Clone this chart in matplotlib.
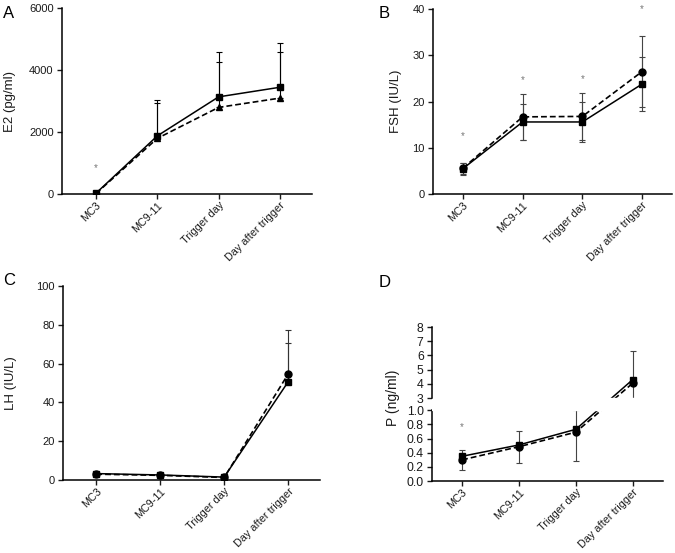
import numpy as np
import matplotlib
matplotlib.use('Agg')
import matplotlib.pyplot as plt

plt.rcParams['font.family'] = ['Liberation Sans', 'DejaVu Sans']

#T# data
days = ['MC3', 'MC9-11', 'Trigger day', 'Day after trigger']

e2_solid = [30, 1880, 3140, 3450]
e2_solid_err = [0, 1150, 1450, 1440]
e2_dash = [20, 1800, 2800, 3100]
e2_dash_err = [0, 1145, 1450, 1490]
e2_star = [830, None, None, None]

fsh_solid = [5.5, 15.6, 15.6, 23.8]
fsh_solid_err = [1.3, 3.8, 4.3, 5.8]
fsh_dash = [5.6, 16.7, 16.8, 26.5]
fsh_dash_err = [1.2, 5.0, 5.1, 7.6]
fsh_star = [12.5, 24.6, 24.9, 40.0]

lh_solid = [3.3, 2.6, 1.5, 50.6]
lh_solid_err = [0, 0, 0, 19.9]
lh_dash = [3.0, 2.4, 1.3, 54.6]
lh_dash_err = [0, 0, 0, 22.7]

p_solid = [0.35, 0.51, 0.73, 4.3]
p_solid_err = [0.02, 0.03, 0.03, 2.03]
p_dash = [0.30, 0.485, 0.69, 4.05]
p_dash_err = [0.14, 0.225, 0.40, 0.1]
p_star = [0.76, None, None, None]

ink = '#1a1a1a'
x = np.arange(len(days))

fig1 = plt.figure(figsize=(6.75, 5.53), dpi=100)

#T# axes positions in figure fractions
axA = fig1.add_axes([0.0919, 0.649, 0.370, 0.336])
axB = fig1.add_axes([0.6415, 0.649, 0.354, 0.3345])
axC = fig1.add_axes([0.0933, 0.132, 0.381, 0.351])
axD = fig1.add_axes([0.640, 0.130, 0.342, 0.2785])


def style(ax, xlim, ysize=8):
    for it1 in ['top', 'right']:
        ax.spines[it1].set_visible(False)
    for it1 in ['left', 'bottom']:
        ax.spines[it1].set_linewidth(1.1)
        ax.spines[it1].set_color('black')
    ax.tick_params(width=1.0, length=3.5, colors=ink)
    ax.tick_params(axis='y', labelsize=ysize, pad=2.5)
    ax.tick_params(axis='x', pad=1)
    ax.set_xticks(x)
    ax.set_xticklabels(days, rotation=45, ha='right', rotation_mode='anchor', fontsize=7.8)
    ax.set_xlim(*xlim)


def draw(ax, solid, solid_err, dash, dash_err, dash_marker, upper_only, ecol):
    se = [np.zeros(4), solid_err] if upper_only else solid_err
    de = [np.zeros(4), dash_err] if upper_only else dash_err
    ax.errorbar(x, dash, yerr=de, fmt='none', ecolor=ecol, elinewidth=0.8, capsize=2.5, capthick=0.8, zorder=2)
    ax.errorbar(x, solid, yerr=se, fmt='none', ecolor=ecol, elinewidth=0.8, capsize=2.5, capthick=0.8, zorder=2)
    ax.plot(x, dash, linestyle=(0, (3.5, 1.8)), color='black', linewidth=1.2,
            marker=dash_marker, markersize=5, zorder=3)
    ax.plot(x, solid, '-', color='black', linewidth=1.1, marker='s', markersize=5, zorder=4)


def stars(ax, vals):
    for xi, v in zip(x, vals):
        if v is not None:
            ax.text(xi, v, '*', ha='center', va='center', fontsize=7, color='#777777')


#T# panel A
draw(axA, e2_solid, e2_solid_err, e2_dash, e2_dash_err, '^', True, 'black')
stars(axA, e2_star)
style(axA, (-0.555, 3.52))
axA.set_ylim(0, 6000)
axA.set_yticks([0, 2000, 4000, 6000])
axA.set_ylabel('E2 (pg/ml)', fontsize=9.5, color=ink)
axA.yaxis.set_label_coords(-0.185, 0.5)

#T# panel B
draw(axB, fsh_solid, fsh_solid_err, fsh_dash, fsh_dash_err, 'o', False, '#444444')
stars(axB, fsh_star)
style(axB, (-0.5, 3.5))
axB.set_ylim(0, 40)
axB.set_yticks([0, 10, 20, 30, 40])
axB.set_ylabel('FSH (IU/L)', fontsize=9.5, color=ink)
axB.yaxis.set_label_coords(-0.13, 0.5)

#T# panel C
draw(axC, lh_solid, lh_solid_err, lh_dash, lh_dash_err, 'o', True, '#333333')
style(axC, (-0.52, 3.5))
axC.set_ylim(0, 100)
axC.set_yticks([0, 20, 40, 60, 80, 100])
axC.set_ylabel('LH (IU/L)', fontsize=9.5, color=ink)
axC.yaxis.set_label_coords(-0.18, 0.5)

#T# panel D with a broken y axis: 0-1 below, 3-8 above
gap = 0.17


def fwd(v):
    v = np.asarray(v, dtype=float)
    return np.where(v <= 1, v, np.where(v <= 3, 1 + (v - 1) / 2 * gap, 1 + gap + (v - 3) / 5))


def inv(f):
    f = np.asarray(f, dtype=float)
    return np.where(f <= 1, f, np.where(f <= 1 + gap, 1 + (f - 1) / gap * 2, 3 + (f - 1 - gap) * 5))


axD.set_yscale('function', functions=(fwd, inv))
draw(axD, p_solid, p_solid_err, p_dash, p_dash_err, 'o', False, '#444444')
stars(axD, p_star)
style(axD, (-0.53, 3.53), ysize=8.8)
axD.set_ylim(0, 8)
axD.axhspan(1.0, 3.0, color='white', zorder=5)
axD.set_yticks([0, 0.2, 0.4, 0.6, 0.8, 1.0, 3, 4, 5, 6, 7, 8])
axD.set_yticklabels(['0.0', '0.2', '0.4', '0.6', '0.8', '1.0', '3', '4', '5', '6', '7', '8'])
axD.yaxis.set_minor_locator(matplotlib.ticker.NullLocator())
axD.spines['left'].set_bounds(0, 1.0)
axD.plot([0, 0], [3, 8], color='black', linewidth=1.1, transform=axD.get_yaxis_transform(),
         clip_on=False, zorder=6)
axD.set_ylabel('P (ng/ml)', fontsize=10, color=ink)
axD.yaxis.set_label_coords(-0.14, 0.54)

#T# panel letters
fig1.text(0.004, 1 - 6 / 553, 'A', fontsize=12, va='top')
fig1.text(379 / 675, 1 - 6 / 553, 'B', fontsize=12, va='top')
fig1.text(0.004, 1 - 273 / 553, 'C', fontsize=12, va='top')
fig1.text(379 / 675, 1 - 275 / 553, 'D', fontsize=12, va='top')

fig1.savefig('out.png', dpi=100)
